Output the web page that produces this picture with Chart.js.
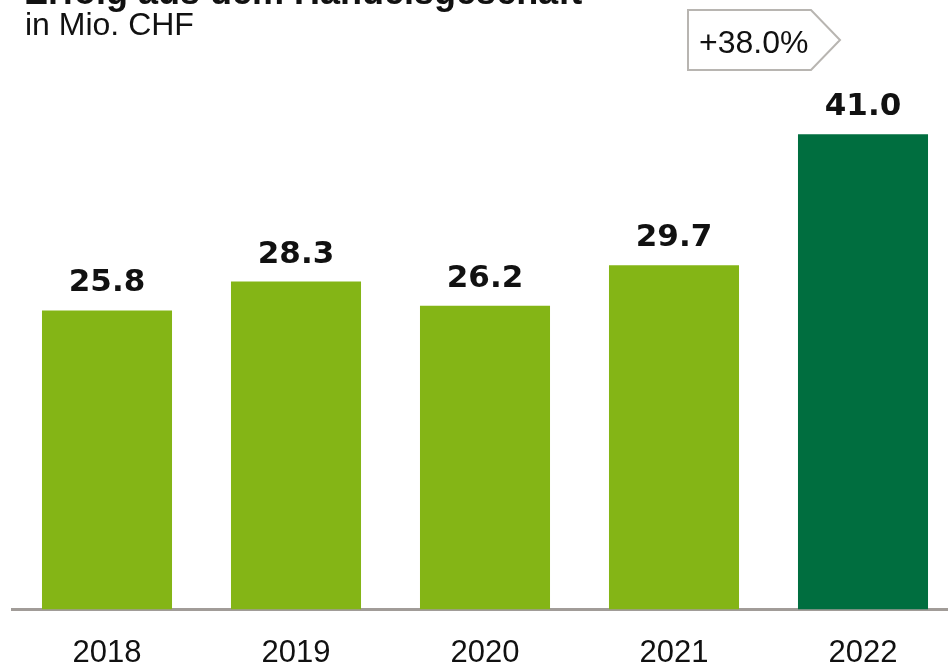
<!DOCTYPE html>
<html>
<head>
<meta charset="utf-8">
<script src="https://cdn.jsdelivr.net/npm/chart.js@4/dist/chart.umd.min.js"></script>
<style>
  html, body { margin: 0; padding: 0; background: #fff; overflow: hidden; }
  #wrap { position: relative; width: 960px; height: 667px; }
  #title { position: absolute; left: 24px; top: -29px; font: bold 36px "Liberation Sans", Arial, sans-serif; color: #111; white-space: nowrap; }
  #sub { position: absolute; left: 25px; top: 6px; font: 32px "Liberation Sans", Arial, sans-serif; color: #111; white-space: nowrap; }
</style>
</head>
<body>
<div id="wrap">
  <canvas id="chart" width="960" height="667"></canvas>
  <div id="title">Erfolg aus dem Handelsgeschäft</div>
  <div id="sub">in Mio. CHF</div>
</div>
<script>
const years = ['2018', '2019', '2020', '2021', '2022'];
const values = [25.8, 28.3, 26.2, 29.7, 41.0];
const barColors = ['#84b516', '#84b516', '#84b516', '#84b516', '#006e3f'];
const growthLabel = '+38.0%';

// value labels above the bars + the growth callout
const labelPlugin = {
  id: 'labels',
  afterDatasetsDraw(chart) {
    const ctx = chart.ctx;
    const meta = chart.getDatasetMeta(0);
    ctx.save();
    ctx.fillStyle = '#111';
    ctx.font = 'bold 31px "DejaVu Sans", sans-serif';
    ctx.textAlign = 'center';
    ctx.textBaseline = 'alphabetic';
    meta.data.forEach((bar, i) => {
      ctx.fillText(values[i].toFixed(1), bar.x, bar.y - 19);
    });

    // callout box with arrow
    ctx.strokeStyle = '#b8b5b1';
    ctx.lineWidth = 2;
    ctx.fillStyle = '#fff';
    ctx.beginPath();
    ctx.moveTo(688, 10);
    ctx.lineTo(811, 10);
    ctx.lineTo(840, 40);
    ctx.lineTo(811, 70);
    ctx.lineTo(688, 70);
    ctx.closePath();
    ctx.fill();
    ctx.stroke();
    ctx.fillStyle = '#111';
    ctx.font = '32px "Liberation Sans", Arial, sans-serif';
    ctx.textAlign = 'left';
    ctx.fillText(growthLabel, 699, 53);
    ctx.restore();
  }
};

new Chart(document.getElementById('chart'), {
  type: 'bar',
  data: {
    labels: years,
    datasets: [{
      data: values,
      backgroundColor: barColors,
      barPercentage: 0.688,
      categoryPercentage: 1
    }]
  },
  options: {
    responsive: false,
    animation: false,
    layout: { padding: { left: 12.5, right: 2.5, top: 30, bottom: 0 } },
    plugins: {
      legend: { display: false },
      tooltip: { enabled: false }
    },
    scales: {
      x: {
        grid: { display: false, drawTicks: false },
        border: { display: true, color: '#a19c98', width: 3 },
        ticks: {
          color: '#111',
          padding: 25,
          font: { family: '"Liberation Sans", Arial, sans-serif', size: 31 }
        },
        afterFit(scale) { scale.height = 57.5; }
      },
      y: {
        display: false,
        min: 0,
        max: 50
      }
    }
  },
  plugins: [labelPlugin]
});
</script>
</body>
</html>
